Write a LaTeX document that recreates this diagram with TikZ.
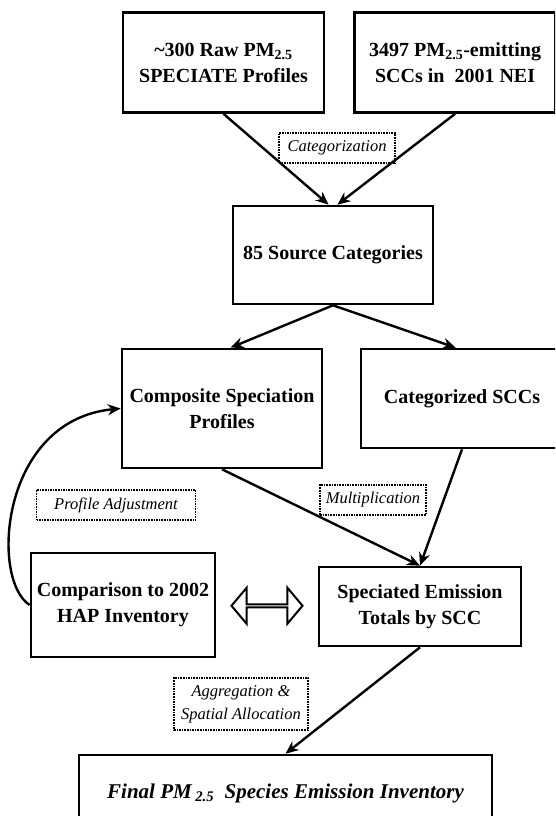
\documentclass[tikz,border=0pt]{standalone}
\usepackage{fontspec}
\setmainfont{Liberation Serif}
\usetikzlibrary{positioning, arrows.meta, shapes.arrows, calc}
\tikzset{
    >={Stealth[length=13pt,width=11pt]},        % filled arrow heads
    box/.style={draw, line width=2.6pt, align=center, inner sep=2pt,
        font=\fontsize{20}{26}\selectfont\bfseries},
    tag/.style={draw, densely dotted, line width=1.6pt, align=center, inner sep=2pt,
        minimum height=30pt, font=\fontsize{16.5}{23}\selectfont\itshape},
    flow/.style={->, line width=2.4pt},
}

\begin{document}
\begin{tikzpicture}[x=1pt, y=-1pt]
\useasboundingbox (0,0) rectangle (555,816);
\clip (0,0) rectangle (555,816);

% boxes
\node[box, minimum width=201pt, minimum height=100pt] (raw) at (223.5,62.5) {\textasciitilde300 Raw PM\textsubscript{2.5}\\SPECIATE Profiles};
\node[box, minimum width=201pt, minimum height=100pt, right=28pt of raw] (scc) {3497 PM\textsubscript{2.5}-emitting\\SCCs in\ \ 2001 NEI};
\node[box, minimum width=200pt, minimum height=98pt] (srccat) at (333,255) {85 Source Categories};
\node[box, minimum width=200pt, minimum height=119pt] (comp) at (222,408.5) {Composite Speciation\\Profiles};
\node[box, minimum width=202pt, minimum height=99pt] (catscc) at (462,398.5) {Categorized SCCs};
\node[box, minimum width=184pt, minimum height=104pt] (hap) at (123,605) {Comparison to 2002\\HAP Inventory};
\node[box, minimum width=202pt, minimum height=79pt] (spec) at (420,606.5) {Speciated Emission\\Totals by SCC};
\node[box, minimum width=413pt, minimum height=76pt, font=\fontsize{21}{26}\selectfont\bfseries\itshape] (final) at (285.5,793) {Final PM\,\textsubscript{2.5}\ \ Species Emission Inventory};

% step labels
\node[tag, minimum width=116pt] (lcat) at (337,148) {Categorization};
\node[tag, minimum width=159pt] (ladj) at (116,505) {Profile Adjustment};
\node[tag, minimum width=106pt] (lmul) at (373,500) {Multiplication};
\node[tag, minimum width=134pt, minimum height=52pt] (lagg) at (241,704) {Aggregation \&\\Spatial Allocation};

% two way comparison
\node[double arrow, draw, line width=2pt, inner sep=0pt, minimum height=71pt, minimum width=36pt,
    double arrow head extend=11pt, double arrow tip angle=100] (link) at ($(hap.east)!0.5!(spec.west)$) {};

% connectors
\draw[flow] (raw.south) -- (srccat.95);
\draw[flow] (scc.south) -- (srccat.85);
\draw[flow] (srccat.south) -- (comp.82);
\draw[flow] (srccat.south) -- (catscc.97);
\draw[flow] (comp.south) -- (spec.north);
\draw[flow] (catscc.south) -- (spec.north);
\draw[flow] (spec.south) -- (final.north);
\draw[flow] (hap.west) .. controls (-10,580) and (0,420) .. (comp.west);

\end{tikzpicture}
\end{document}
